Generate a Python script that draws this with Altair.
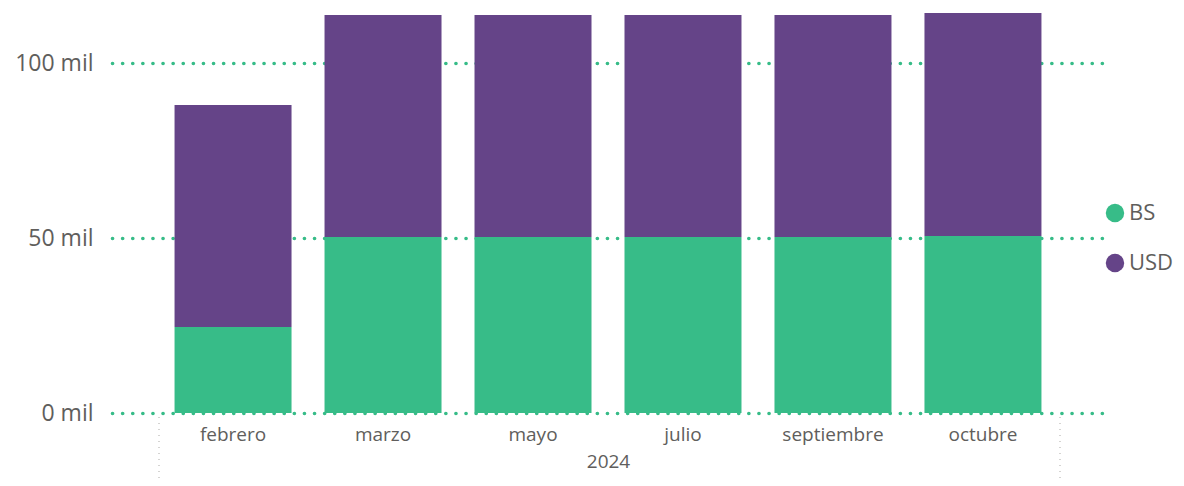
import altair as alt
import pandas as pd

months = ["febrero", "marzo", "mayo", "julio", "septiembre", "octubre"]
bs_values = [24600, 50300, 50300, 50300, 50300, 50600]
usd_values = [63400, 63400, 63400, 63400, 63400, 63700]
series = ["BS", "USD"]
colors = ["#37BC88", "#654488"]
year_label = "2024"

rows = []
for m, b, u in zip(months, bs_values, usd_values):
    rows.append({"mes": m, "moneda": "BS", "valor": b, "ord": 0})
    rows.append({"mes": m, "moneda": "USD", "valor": u, "ord": 1})
df = pd.DataFrame(rows)

FONT = "Open Sans"
GRID = "#37BC88"
TXT = "#605E5C"

bars = alt.Chart(df).mark_bar().encode(
    x=alt.X(
        "mes:N",
        sort=months,
        scale=alt.Scale(paddingInner=0.22, paddingOuter=0.417),
        axis=alt.Axis(
            title=year_label,
            labelAngle=0,
            labelFontSize=19,
            labelColor=TXT,
            labelPadding=12,
            titleFontSize=19,
            titleFontWeight="normal",
            titleColor=TXT,
            titlePadding=8,
            domain=False,
            ticks=False,
            grid=False,
        ),
    ),
    y=alt.Y(
        "valor:Q",
        stack="zero",
        scale=alt.Scale(nice=False, zero=True),
        axis=alt.Axis(
            title=None,
            values=[0, 50000, 100000],
            labelExpr="format(datum.value / 1000, 'd') + ' mil'",
            labelFontSize=23,
            labelColor=TXT,
            labelPadding=19,
            domain=False,
            ticks=False,
            grid=True,
            gridColor=GRID,
            gridWidth=3.6,
            gridDash=[0.1, 10],
            gridCap="round",
        ),
    ),
    color=alt.Color(
        "moneda:N",
        scale=alt.Scale(domain=series, range=colors),
        legend=alt.Legend(
            title=None,
            orient="none",
            legendX=992,
            legendY=189,
            symbolType="circle",
            symbolSize=340,
            symbolStrokeWidth=0,
            symbolOpacity=1,
            labelFontSize=22,
            labelColor=TXT,
            labelOffset=3,
            rowPadding=28,
            padding=0,
        ),
    ),
    order=alt.Order("ord:Q", sort="ascending"),
)

one = pd.DataFrame({"a": [0]})
sep_left = alt.Chart(one).mark_rule(color="#C8C6C4", strokeWidth=1.5, strokeDash=[1, 5]).encode(
    x=alt.value(47), y=alt.value(404), y2=alt.value(466)
)
sep_right = alt.Chart(one).mark_rule(color="#C8C6C4", strokeWidth=1.5, strokeDash=[1, 5]).encode(
    x=alt.value(948), y=alt.value(404), y2=alt.value(466)
)

chart = alt.layer(bars, sep_left, sep_right).properties(
    width=992,
    height=400,
    autosize=alt.AutoSizeParams(type="none"),
    padding={"left": 104, "top": 5, "right": 72, "bottom": 65},
).configure(
    font=FONT,
).configure_view(
    stroke=None,
)

chart.save("out.html", embed_options={"renderer": "svg", "actions": False})
